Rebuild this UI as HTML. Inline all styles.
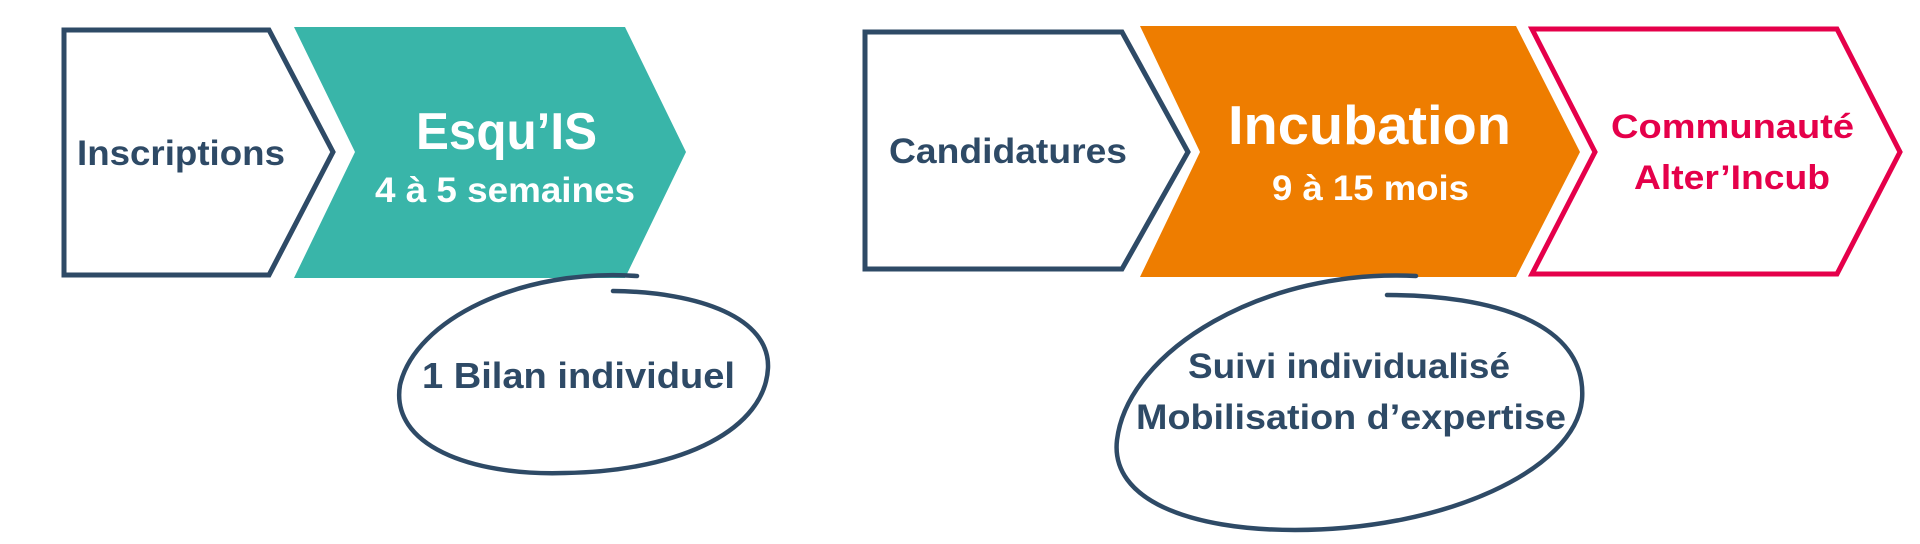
<!DOCTYPE html>
<html><head><meta charset="utf-8"><style>
html,body{margin:0;padding:0;background:#fff;width:1920px;height:544px;overflow:hidden}
text{font-family:"Liberation Sans",sans-serif;font-weight:bold}
</style></head><body>
<svg width="1920" height="544" viewBox="0 0 1920 544" xmlns="http://www.w3.org/2000/svg">
<g fill="none" stroke-linejoin="miter">
<polygon points="64,30 269,30 333,152 269,275 64,275" stroke="#2e4a66" stroke-width="5"/>
<polygon points="294,27 625,27 686,152 625,278 294,278 355,152" fill="#39b5a9"/>
<polygon points="865,32 1122,32 1188,152 1122,269 865,269" stroke="#2e4a66" stroke-width="5"/>
<polygon points="1140,26 1516,26 1580,152 1516,277 1140,277 1200,152" fill="#ee7d00"/>
<polygon points="1532,29 1837,29 1900,152 1837,274 1532,274 1595,152" stroke="#e5004a" stroke-width="5"/>
<path d="M637 276 C520 268 415 320 400 385 C390 445 470 476 565 473 C685 471 765 428 768 368 C770 318 700 292 613 291" stroke="#2e4a66" stroke-width="4.5" stroke-linecap="round"/>
<path d="M1416 276 C1265 268 1128 350 1117 440 C1110 500 1190 530 1295 530 C1445 530 1575 470 1582 400 C1588 322 1490 295 1387 295" stroke="#2e4a66" stroke-width="4.5" stroke-linecap="round"/>
</g>
<text x="77" y="165" font-size="35" fill="#2e4a66" textLength="208" lengthAdjust="spacingAndGlyphs">Inscriptions</text>
<text x="416" y="149" font-size="52" fill="#fff" textLength="181" lengthAdjust="spacingAndGlyphs">Esqu’IS</text>
<text x="375" y="202" font-size="35" fill="#fff" textLength="260" lengthAdjust="spacingAndGlyphs">4 à 5 semaines</text>
<text x="889" y="163" font-size="35" fill="#2e4a66" textLength="238" lengthAdjust="spacingAndGlyphs">Candidatures</text>
<text x="1228" y="144" font-size="55" fill="#fff" textLength="283" lengthAdjust="spacingAndGlyphs">Incubation</text>
<text x="1272" y="200" font-size="35" fill="#fff" textLength="197" lengthAdjust="spacingAndGlyphs">9 à 15 mois</text>
<text x="1611" y="138" font-size="34" fill="#e5004a" textLength="243" lengthAdjust="spacingAndGlyphs">Communauté</text>
<text x="1634" y="189" font-size="34" fill="#e5004a" textLength="196" lengthAdjust="spacingAndGlyphs">Alter’Incub</text>
<text x="422" y="388" font-size="36" fill="#2e4a66" textLength="313" lengthAdjust="spacingAndGlyphs">1  Bilan individuel</text>
<text x="1188" y="378" font-size="35" fill="#2e4a66" textLength="322" lengthAdjust="spacingAndGlyphs">Suivi individualisé</text>
<text x="1136" y="429" font-size="35" fill="#2e4a66" textLength="430" lengthAdjust="spacingAndGlyphs">Mobilisation d’expertise</text>
</svg>
</body></html>
